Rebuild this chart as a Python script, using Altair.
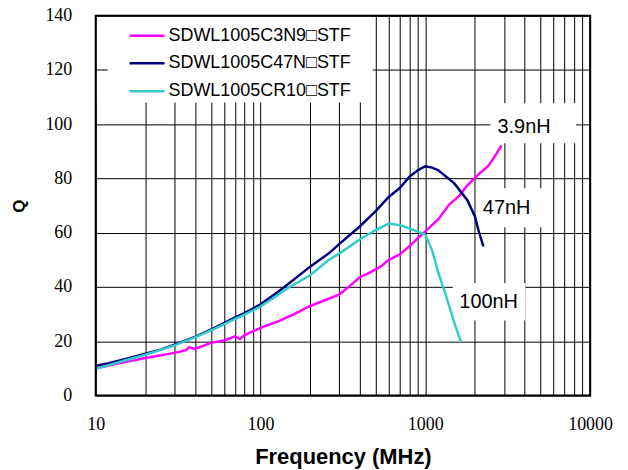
import altair as alt
import pandas as pd

# ---------------- data ----------------
series_names = ["SDWL1005C3N9\u25a1STF", "SDWL1005C47N\u25a1STF", "SDWL1005CR10\u25a1STF"]
series_colors = ["#FF00FF", "#000080", "#33CCCC"]

freq_3n9 = [10, 12, 15, 20, 25, 30, 35, 37, 40, 50, 60, 70, 75, 80, 100, 130, 160, 200,
            250, 300, 350, 400, 450, 500, 550, 600, 700, 800, 900, 1000, 1200, 1400,
            1600, 1800, 2100, 2400, 2600, 2900]
q_3n9 = [10, 11, 12.3, 13.8, 14.8, 15.7, 16.6, 17.8, 17.2, 19.4, 20.3, 21.8, 20.8, 22.3,
         24.9, 27.5, 30, 33, 35.3, 37.2, 40.5, 43.6, 45, 46.5, 48, 50, 52, 55, 58, 60.5,
         65, 70.5, 73.5, 77.5, 81.5, 84.5, 87.5, 92.2]

freq_47n = [10, 12, 15, 20, 25, 30, 40, 50, 60, 70, 80, 100, 120, 150, 200, 260, 300,
            400, 500, 600, 700, 800, 900, 1000, 1100, 1200, 1500, 1800, 2000, 2100, 2250]
q_47n = [11, 11.9, 13.4, 15.4, 17, 18.7, 21.6, 24.3, 26.7, 28.8, 30.4, 33.6, 37, 41.5,
         47.5, 52.4, 55.8, 62.3, 68, 73.2, 76.5, 80.6, 83, 84.5, 84, 83, 78.2, 72, 66,
         61, 55]

freq_r10 = [10, 12, 15, 20, 25, 30, 40, 50, 60, 70, 80, 100, 120, 150, 200, 260, 300,
            400, 500, 600, 700, 800, 900, 1000, 1100, 1200, 1300, 1400, 1500, 1650]
q_r10 = [9.8, 11.2, 12.9, 15, 16.9, 18.5, 21.4, 24, 26.2, 28.2, 29.8, 32.8, 36, 40, 44.3,
         50, 52.3, 57.5, 61, 63.4, 62.8, 61.6, 60.4, 59.3, 53.5, 45.2, 39, 32.8, 26.8,
         19.6]

x_ticks = [10, 100, 1000, 10000]
y_ticks = [0, 20, 40, 60, 80, 100, 120, 140]

ann_text = ["3.9nH", "47nH", "100nH"]
ann_f = [2742, 2234, 1608]
ann_q = [99, 69.1, 34.3]
box_f1 = [2486, 2047, 1470]
box_f2 = [8240, 5578, 4050]
box_q1 = [93, 62, 27.6]
box_q2 = [107.7, 76.4, 41.5]

# ---------------- tables ----------------
rows = []
for name, fs, qs in [(series_names[0], freq_3n9, q_3n9),
                     (series_names[1], freq_47n, q_47n),
                     (series_names[2], freq_r10, q_r10)]:
    for f, q in zip(fs, qs):
        rows.append({"series": name, "f": f, "Q": q})
df = pd.DataFrame(rows)

ann = pd.DataFrame({"label": ann_text, "f": ann_f, "Q": ann_q,
                    "f1": box_f1, "f2": box_f2, "q1": box_q1, "q2": box_q2})

W, H = 496, 381
grid_x = [m * 10 ** e for e in (1, 2, 3) for m in range(1, 10)] + [10000]

x_scale = alt.Scale(type="log", domain=[10, 10000], nice=False)
y_scale = alt.Scale(domain=[0, 140], nice=False)

SERIF = "Liberation Serif, Times New Roman, serif"
SANS = "Liberation Sans, Arial, sans-serif"

x_axis = alt.Axis(
    values=grid_x, grid=True, gridColor="black", gridWidth=1, gridOpacity=1,
    domain=False, ticks=False, format="d",
    labelExpr="indexof([10, 100, 1000, 10000], datum.value) >= 0 ? datum.label : ''",
    labelFont=SERIF, labelFontSize=18, labelColor="black",
    labelPadding=20, labelFlush=False, labelOverlap=False,
    title="Frequency (MHz)", titleFont=SANS, titleFontSize=22,
    titleFontWeight="bold", titleColor="black", titleBaseline="alphabetic",
    titleX=W / 2, titleY=68, titleAlign="center",
)
y_axis = alt.Axis(
    values=y_ticks, grid=True, gridColor="black", gridWidth=1, gridOpacity=1,
    domain=False, ticks=False,
    labelFont=SERIF, labelFontSize=18, labelColor="black",
    labelPadding=24, labelFlush=False, labelOverlap=False,
    title="Q", titleFont=SANS, titleFontSize=17, titleFontWeight="bold",
    titleColor="black", titleAngle=-90, titleBaseline="alphabetic", titleAlign="center",
    titleX=-71, titleY=H / 2,
)

one = pd.DataFrame({"a": [0]})

# white legend background
legend_bg = alt.Chart(one).mark_rect(fill="white").encode(
    x=alt.value(1), x2=alt.value(278), y=alt.value(1), y2=alt.value(87))

# white boxes behind annotations
boxes = alt.Chart(ann).mark_rect(fill="white").encode(
    x=alt.X("f1:Q", scale=x_scale, axis=x_axis), x2="f2:Q",
    y=alt.Y("q1:Q", scale=y_scale, axis=y_axis), y2="q2:Q")

lines = alt.Chart(df).mark_line(strokeWidth=2.5).encode(
    x=alt.X("f:Q", scale=x_scale, axis=x_axis),
    y=alt.Y("Q:Q", scale=y_scale, axis=y_axis),
    color=alt.Color("series:N", scale=alt.Scale(domain=series_names, range=series_colors),
                    legend=None),
)

labels = alt.Chart(ann).mark_text(align="left", baseline="middle", font=SANS,
                                  fontSize=20, color="black").encode(
    x=alt.X("f:Q", scale=x_scale, axis=x_axis),
    y=alt.Y("Q:Q", scale=y_scale, axis=y_axis),
    text="label:N")

legend_layers = []
leg_y = [20, 47.7, 75.7]
for name, col, yy in zip(series_names, series_colors, leg_y):
    legend_layers.append(alt.Chart(one).mark_rule(color=col, strokeWidth=2.5).encode(
        x=alt.value(34), x2=alt.value(69), y=alt.value(yy)))
    legend_layers.append(alt.Chart(one).mark_text(
        align="left", baseline="middle", font=SANS, fontSize=18,
        color="black", text=name).encode(x=alt.value(73), y=alt.value(yy)))

inner_tick = alt.Chart(pd.DataFrame({"v": [120]})).mark_rule(color="black", strokeWidth=1).encode(
    x=alt.value(0), x2=alt.value(12), y=alt.Y("v:Q", scale=y_scale, axis=y_axis))

frame = alt.Chart(one).mark_rect(filled=False, stroke="black", strokeWidth=2).encode(
    x=alt.value(0), x2=alt.value(W), y=alt.value(0), y2=alt.value(H))

chart = alt.layer(legend_bg, boxes, lines, labels, *legend_layers, inner_tick, frame).properties(
    width=W, height=H,
    autosize=alt.AutoSizeParams(type="none"),
    padding={"left": 88, "top": 7, "right": 30, "bottom": 75},
).configure_view(stroke=None).configure(background="white")

chart.save("out.html", embed_options={"renderer": "svg", "actions": False})
